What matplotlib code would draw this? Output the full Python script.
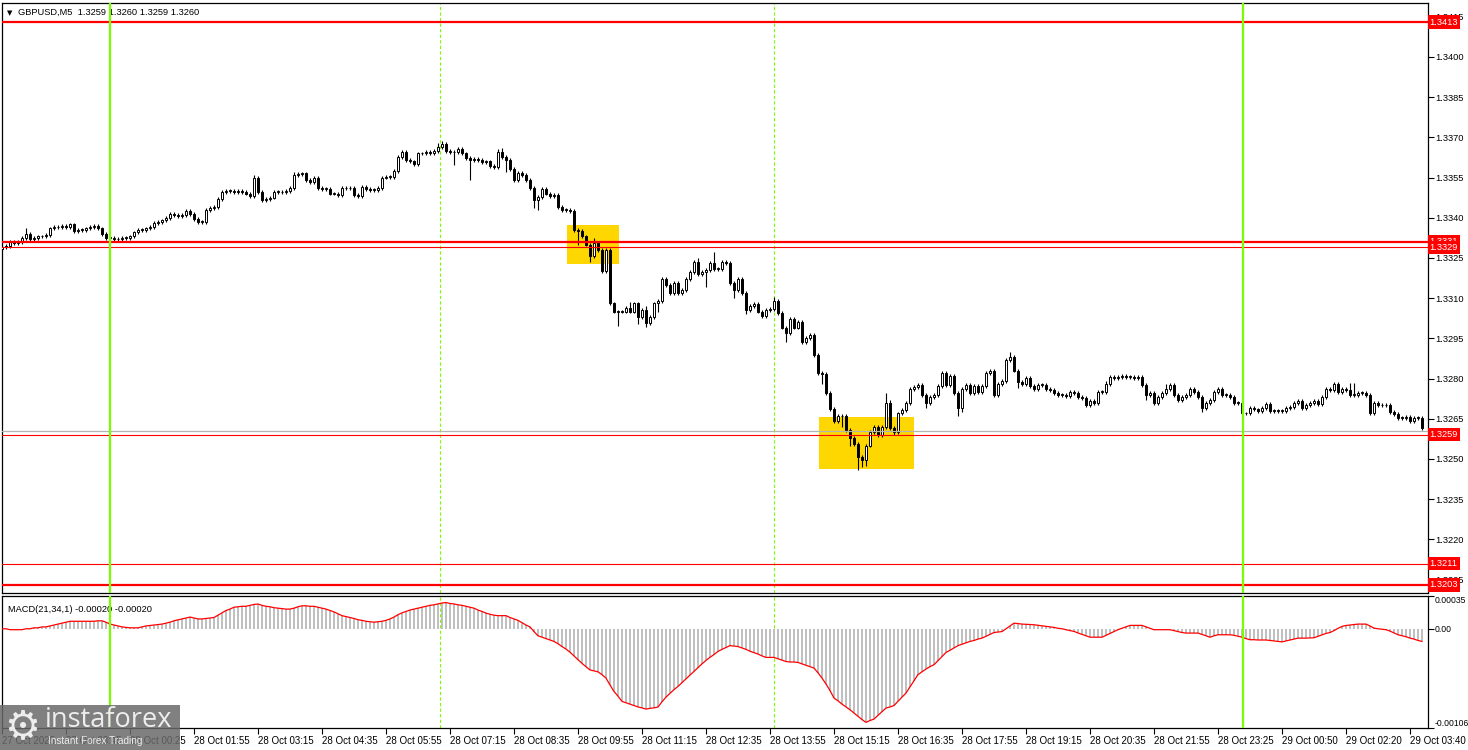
import matplotlib
matplotlib.use("Agg")
import matplotlib.pyplot as plt
from matplotlib.patches import Rectangle
import numpy as np

# GBPUSD M5 chart with MACD(21,34,1) panel
BASE = 1.3200
PIP = 0.0001

# bar closes in pips above 1.3200, one per 5-minute bar
CLOSE_PIPS = [
    129, 129.5, 131, 130.5, 131, 132.5, 134, 132, 132.5, 133,
    133, 133.5, 136, 136.5, 136.5, 137, 136.5, 137.5, 135, 135.5,
    135.5, 136, 136.5, 137, 136, 134, 132.5, 132.5, 132, 132,
    132.5, 132.5, 133, 134.5, 135.5, 135.5, 136, 136.5, 138, 138.5,
    139, 140, 141.5, 141, 140.5, 141, 142.5, 141.5, 139.5, 138.5,
    138.5, 143, 143.5, 144, 147, 149.5, 150, 150, 149.5, 150,
    149.5, 149, 148, 155, 149.6, 146.6, 147, 147.5, 149.6, 149.6,
    149.5, 150, 151, 156, 156.3, 156.5, 154, 153.4, 155, 151,
    150.7, 150.7, 149, 149, 148.5, 151, 151, 151, 148.5, 148,
    151.5, 150.7, 150.4, 150.4, 151, 155, 155.3, 155.3, 157.5, 162.7,
    164.5, 161.5, 161, 160, 164, 164, 164.5, 164, 165, 166.4,
    167.5, 165, 164.5, 164.5, 165.5, 164, 162.3, 161.5, 162, 161.5,
    160.8, 161, 159.3, 159, 164.5, 162.7, 161.7, 158.2, 154, 156.7,
    156, 154, 151, 146.6, 147.7, 150.7, 149, 148, 148.5, 144,
    143, 143, 142.5, 135.4, 135, 133, 130, 125.7, 130.6, 128,
    120, 128, 108, 105, 105, 105, 106.3, 105, 108, 103,
    105.6, 100.7, 103, 108, 109, 117, 115, 112, 115.7, 112,
    113, 117, 119.8, 123.5, 119, 119.8, 120.5, 123, 121, 121,
    123.5, 123, 115.7, 113, 117, 112, 105.6, 107, 107.8, 105,
    103.3, 105.6, 106, 109, 104.5, 99, 97, 102.2, 99, 101,
    93.7, 95, 96.3, 88.8, 82, 81.7, 74.6, 68.7, 64, 66,
    66, 60.8, 58, 55.6, 50.7, 49.6, 55, 60, 62, 59,
    62, 71, 61.6, 60, 67, 68.3, 71, 76, 76.8, 77.6,
    73.9, 71, 73, 74, 77.2, 82, 77.6, 81, 74.6, 69,
    76, 77.6, 74.6, 77.2, 75, 77.2, 82, 83, 74, 78,
    79, 87, 88, 83, 78.7, 78, 80.2, 77.2, 76, 77.6,
    77.6, 76, 75.7, 74.5, 74, 74, 73.5, 75, 74.6, 73,
    72.8, 70, 71.6, 71, 75, 75, 78, 80.6, 80.2, 80.6,
    81, 80.6, 80.6, 80.2, 80.6, 77.6, 74, 74.6, 71, 73,
    74.6, 76, 77.6, 74, 72, 73, 74, 76, 75, 73,
    69, 71, 72, 75, 76, 74, 74, 73, 71, 71,
    67, 67, 69, 68.5, 68, 69, 70.5, 68, 68, 68,
    68, 69, 69.5, 71, 71.5, 69, 70, 71, 71.5, 70.5,
    73, 76, 75.7, 78, 75, 76, 75.7, 74, 74, 74.6,
    74.6, 74, 67, 71, 70, 70, 70, 67.5, 66.8, 65.3,
    65.3, 65.6, 64.2, 65.3, 65.3, 61.5,
]
FIRST_OPEN_PIPS = 128.5
WICK_PIPS = 0.7  # typical small shadow on quiet bars

# bars with clearly longer shadows: bar -> high / low in pips
HIGH_PIPS = {6: 136, 63: 156, 64: 155.6, 73: 157, 99: 163.5, 109: 168, 110: 168.5,
             111: 167, 124: 165.5, 125: 166, 143: 143, 148: 132.5, 152: 128.5,
             157: 108.6, 161: 107, 174: 125, 178: 127.2, 193: 110.5, 221: 74.6,
             222: 72, 252: 90, 276: 79, 291: 78, 337: 78.5, 338: 78.5}
LOW_PIPS = {113: 159.7, 117: 154, 126: 157, 133: 143.5, 134: 143, 144: 130,
            147: 123.5, 154: 99.6, 159: 100.5, 161: 99.3, 164: 105, 176: 114,
            183: 110, 186: 104, 196: 93.7, 197: 97, 205: 78, 210: 62, 212: 55,
            214: 46, 215: 47, 216: 47.5, 223: 59, 231: 69, 239: 66, 240: 67.5,
            254: 76.5, 286: 72, 300: 67.5, 342: 66.5}

# MACD value per bar, in units of 0.00001
MACD_E5 = [
    0, 0, -1, -1, -1, -1, 0, 0, 1, 1,
    2, 2, 3, 4, 5, 6, 7, 8, 8, 8,
    8, 8, 8, 8, 8.5, 8.5, 7, 5, 4, 3,
    2, 1.5, 1, 1, 1, 2, 3, 3.5, 4, 4.5,
    5, 6, 7, 8.5, 9.5, 10.5, 11.5, 12.5, 11.5, 10.5,
    10.5, 11, 11.5, 12, 14.5, 17, 19.5, 21, 23, 23.5,
    24, 24, 25, 26, 26.4, 25, 24, 23.5, 22.5, 22,
    21.5, 21, 21, 22, 23.5, 24.5, 24.5, 24, 24, 23,
    22, 21, 19.5, 18, 16, 14, 13, 12, 11, 9.6,
    9, 8, 7.5, 7, 7.5, 8, 9, 10.5, 12.5, 15,
    17, 18.5, 20, 21, 22, 23, 24, 25, 25.6, 26.5,
    27.5, 28, 27, 26.5, 25.6, 25, 24, 23, 22, 20,
    18.5, 16.7, 15.5, 14.5, 14, 14, 14, 12, 10.5, 9,
    6.5, 4, 2, -3, -7.5, -9, -10.5, -12, -13.5, -16,
    -19, -21.7, -25, -29, -33, -37, -40.5, -44, -45, -46,
    -49, -52.7, -60, -67, -72, -77.6, -79, -80.5, -82, -83.5,
    -84.5, -85.8, -85, -84.5, -83.6, -78, -73, -69, -65, -61.6,
    -57.5, -53.5, -49.5, -45.6, -41.5, -37.5, -33.8, -30.5, -27.5, -24.2,
    -22, -20, -18, -18.5, -19, -20.5, -22, -24, -25.5, -27,
    -29, -30.6, -30.6, -30.6, -32, -33.5, -35, -35.5, -35.5, -36,
    -37.5, -39, -40.5, -42, -47, -52.7, -59, -66, -74, -77,
    -80.5, -83.5, -86.5, -90, -93.5, -97, -100, -98, -96.5, -92.5,
    -88.5, -84.7, -83.5, -82, -77.5, -73, -68.7, -62, -55.5, -49,
    -46, -43, -40.5, -38.4, -34, -29.5, -25.3, -23, -20.5, -18,
    -16.5, -15, -13.5, -12.5, -11, -10, -8, -6, -4, -3.5,
    -3, 0, 3, 6, 5.5, 5, 4.8, 4.5, 4.3, 3.7,
    3, 2.5, 2, 1.5, 0.5, 0, -1, -2, -2.8, -4.5,
    -6, -7.5, -9, -9, -9, -9, -7, -5, -3, -1,
    0.5, 2, 3.6, 3.6, 3.6, 3.6, 2, 0.5, -1, -1,
    -1, -1, -1, -2, -3, -4, -4.6, -4.6, -4.6, -4.6,
    -6, -7.5, -9, -7.5, -6.4, -6.4, -6.4, -6.4, -7, -8,
    -9, -10.5, -11.7, -11.7, -12, -12, -12, -12.5, -13, -13.5,
    -14, -13, -12, -11, -10, -10, -10, -9.8, -9.6, -8,
    -6.5, -5, -4, -2, 0.5, 2.5, 3.5, 4, 4.6, 5,
    5, 5, 3, 0.7, 0, -0.5, -1, -2.5, -4.5, -6.4,
    -7.5, -8.5, -10, -11, -12.5, -13.5,
]
MACD_MAX = 0.00035
MACD_MIN = -0.00106

TIME_LABELS = ["27 Oct 2025", "27 Oct 23:45", "28 Oct 00:25", "28 Oct 01:55",
               "28 Oct 03:15", "28 Oct 04:35", "28 Oct 05:55", "28 Oct 07:15",
               "28 Oct 08:35", "28 Oct 09:55", "28 Oct 11:15", "28 Oct 12:35",
               "28 Oct 13:55", "28 Oct 15:15", "28 Oct 16:35", "28 Oct 17:55",
               "28 Oct 19:15", "28 Oct 20:35", "28 Oct 21:55", "28 Oct 23:25",
               "29 Oct 00:50", "29 Oct 02:20", "29 Oct 03:40"]
LABEL_STEP = 16  # bars between time labels

PRICE_TICKS = [1.3205, 1.3220, 1.3235, 1.3250, 1.3265, 1.3280, 1.3295, 1.3310,
               1.3325, 1.3340, 1.3355, 1.3370, 1.3385, 1.3400, 1.3415]
THICK_LEVELS = [1.3413, 1.3331, 1.3203]
THIN_LEVELS = [1.3329, 1.3259, 1.3211]
LEVEL_TAGS = [1.3413, 1.3331, 1.3329, 1.3259, 1.3211, 1.3203]
BID = 1.32603
GREEN_BARS = [27, 310.25]
SEPARATOR_BARS = [109.5, 193]
# (first bar, last bar, top price, bottom price)
ZONES = [(141.25, 154.25, 1.33373, 1.33228), (204.25, 228.0, 1.32657, 1.32463)]

HEADER = "GBPUSD,M5  1.3259 1.3260 1.3259 1.3260"
MACD_TITLE = "MACD(21,34,1) -0.00020 -0.00020"

W, H = 1468, 750
FS = 6.7
GREEN = "#7CFC00"

plt.rcParams["font.family"] = ["Liberation Sans", "DejaVu Sans"]
fig = plt.figure(figsize=(W / 100, H / 100), dpi=100)
ax = fig.add_axes([2 / W, (H - 593) / H, 1426 / W, 590 / H])
ax2 = fig.add_axes([2 / W, (H - 728) / H, 1426 / W, 132 / H])

closes = BASE + np.array(CLOSE_PIPS) * PIP
opens = np.concatenate([[BASE + FIRST_OPEN_PIPS * PIP], closes[:-1]])
x = np.arange(len(closes))
top = np.maximum(opens, closes)
bot = np.minimum(opens, closes)
highs = top + WICK_PIPS * PIP
lows = bot - WICK_PIPS * PIP
for b, v in HIGH_PIPS.items():
    highs[b] = max(highs[b], BASE + v * PIP)
for b, v in LOW_PIPS.items():
    lows[b] = min(lows[b], BASE + v * PIP)
body = np.maximum(top - bot, 0.2 * PIP)
up = closes >= opens

# candles
ax.vlines(x, lows, highs, color="black", lw=0.8, zorder=3)
ax.bar(x[up], body[up], bottom=bot[up], width=0.62, color="white",
       edgecolor="black", lw=0.7, zorder=4)
ax.bar(x[~up], body[~up], bottom=bot[~up], width=0.62, color="black",
       edgecolor="black", lw=0.7, zorder=4)

for x0, x1, p_top, p_bot in ZONES:
    ax.add_patch(Rectangle((x0, p_bot), x1 - x0, p_top - p_bot,
                           facecolor="#FFD700", edgecolor="none", zorder=1))

ax.axhline(BID, color="#B4B4B4", lw=0.9, zorder=5)
for lvl in THICK_LEVELS:
    ax.axhline(lvl, color="red", lw=1.6, zorder=6)
for lvl in THIN_LEVELS:
    ax.axhline(lvl, color="red", lw=0.8, zorder=6)

for a in (ax, ax2):
    for b in GREEN_BARS:
        a.axvline(b, color=GREEN, lw=1.6, zorder=7)
    for b in SEPARATOR_BARS:
        a.axvline(b, color=GREEN, lw=0.8, dashes=(3, 2), zorder=2)
    a.set_xlim(0, 356.5)
    for s in a.spines.values():
        s.set_linewidth(0.9)

ax.set_ylim(1.3200, 1.34201)
ax.yaxis.tick_right()
ax.set_yticks(PRICE_TICKS)
ax.set_yticklabels([f"{t:.4f}" for t in PRICE_TICKS])
ax.tick_params(axis="y", length=4, width=0.8, labelsize=FS, pad=1.5)
ax.set_xticks([])

for lvl in LEVEL_TAGS:
    ax.text(1.0012, lvl, f"{lvl:.4f}", transform=ax.get_yaxis_transform(),
            ha="left", va="center", fontsize=FS, color="white", zorder=10,
            clip_on=False,
            bbox=dict(boxstyle="square,pad=0.22", fc="red", ec="none"))

ax.text(0.0035, 0.988, "\u25bc", transform=ax.transAxes, fontsize=5,
        va="top", ha="left", family="DejaVu Sans")
ax.text(0.011, 0.991, HEADER, transform=ax.transAxes, fontsize=FS,
        va="top", ha="left")

# MACD panel
macd = np.array(MACD_E5) * 1e-5
ax2.bar(x, macd, width=0.5, color="#C0C0C0", zorder=3)
ax2.plot(x, macd, color="red", lw=0.9, zorder=4)
ax2.set_ylim(MACD_MIN, MACD_MAX)
ax2.yaxis.tick_right()
ax2.set_yticks([MACD_MAX, 0, MACD_MIN])
ax2.set_yticklabels([f"{MACD_MAX:.5f}", "0.00", f"{MACD_MIN:.5f}"])
ylabs = ax2.get_yticklabels()
ylabs[0].set_va("top")
ylabs[2].set_va("bottom")
ax2.tick_params(axis="y", length=4, width=0.8, labelsize=6.2, pad=1)
ax2.text(0.004, 0.93, MACD_TITLE, transform=ax2.transAxes, fontsize=FS,
         va="top", ha="left")

ticks = [LABEL_STEP * k for k in range(len(TIME_LABELS))]
ax2.set_xticks(ticks)
ax2.set_xticklabels(TIME_LABELS)
for lab in ax2.get_xticklabels():
    lab.set_ha("left")
ax2.tick_params(axis="x", length=4, width=0.8, labelsize=7.0, pad=1.5)

# instaforex watermark
fig.patches.append(Rectangle((0, 0), 180 / W, 45 / H, transform=fig.transFigure,
                             facecolor="#6A6A6A", alpha=0.85, edgecolor="none",
                             zorder=20))
fig.text(4 / W, (H - 728) / H, "\u2699", fontsize=29, color="#EDEDED",
         va="center", ha="left", zorder=21, family="DejaVu Sans")
fig.text(45 / W, (H - 720) / H, "instaforex", fontsize=19.5, color="#EDEDED",
         family="Open Sans", va="center", ha="left", zorder=21)
fig.text(48 / W, (H - 741) / H, "Instant Forex Trading", fontsize=7.2,
         color="#EDEDED", va="center", ha="left", zorder=21)

fig.savefig("out.png", dpi=100, facecolor="white")
